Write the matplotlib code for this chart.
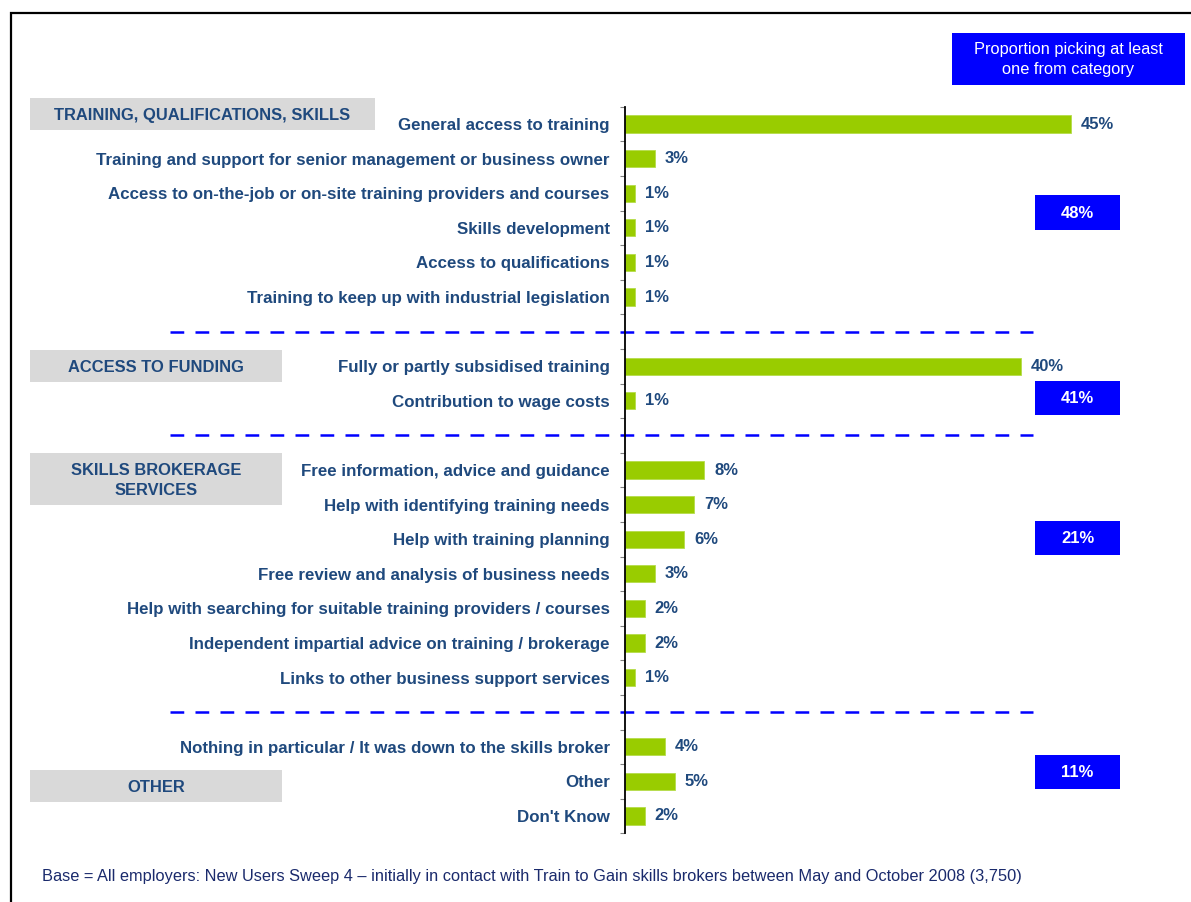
import matplotlib
matplotlib.use("Agg")
import matplotlib.pyplot as plt
from matplotlib.patches import Rectangle

plt.rcParams['font.family'] = ['Liberation Sans', 'DejaVu Sans']

# data
train_items = ["General access to training",
               "Training and support for senior management or business owner",
               "Access to on-the-job or on-site training providers and courses",
               "Skills development",
               "Access to qualifications",
               "Training to keep up with industrial legislation"]
train_vals = [45, 3, 1, 1, 1, 1]

funding_items = ["Fully or partly subsidised training",
                 "Contribution to wage costs"]
funding_vals = [40, 1]

broker_items = ["Free information, advice and guidance",
                "Help with identifying training needs",
                "Help with training planning",
                "Free review and analysis of business needs",
                "Help with searching for suitable training providers / courses",
                "Independent impartial advice on training / brokerage",
                "Links to other business support services"]
broker_vals = [8, 7, 6, 3, 2, 2, 1]

other_items = ["Nothing in particular / It was down to the skills broker",
               "Other",
               "Don't Know"]
other_vals = [4, 5, 2]

group_names = ["TRAINING, QUALIFICATIONS, SKILLS", "ACCESS TO FUNDING",
               "SKILLS BROKERAGE\nSERVICES", "OTHER"]
group_totals = ["48%", "41%", "21%", "11%"]

header_text = "Proportion picking at least\none from category"
base_text = ("Base = All employers: New Users Sweep 4 \u2013 initially in contact with "
             "Train to Gain skills brokers between May and October 2008 (3,750)")

label_col = "#1f497d"
bar_col = "#99cc00"
blue = "#0000ff"
W, H = 1191, 902

fig = plt.figure(figsize=(W / 100, H / 100), dpi=100)


def fx(x):
    return x / W


def fy(y):
    return 1 - y / H


# axes: x axis line at 625px, 1% = 9.9px; slots of 34.6px
ax_left, ax_right = 625, 1130
ax = fig.add_axes([fx(ax_left), fy(833.3), fx(ax_right - ax_left), (833.3 - 106.7) / H])

groups = [(train_items, train_vals), (funding_items, funding_vals),
          (broker_items, broker_vals), (other_items, other_vals)]
labels, vals, pos, seps = [], [], [], []
slot = 0
for gi, (items, v) in enumerate(groups):
    for it, val in zip(items, v):
        labels.append(it)
        vals.append(val)
        pos.append(slot)
        slot += 1
    if gi < len(groups) - 1:
        seps.append(slot)
        slot += 1

ax.barh(pos, vals, height=0.5, color=bar_col, edgecolor="#b5dc4a", linewidth=0.6)
for p, v in zip(pos, vals):
    ax.text(v + 1.0, p, f"{v}%", va="center", ha="left", fontsize=12,
            fontweight="bold", color=label_col)

ax.set_xlim(0, (ax_right - ax_left) / 9.9)
ax.set_ylim(slot - 0.5, -0.5)
ax.set_yticks(pos)
ax.set_yticklabels(labels, fontsize=12.2, fontweight="bold", color=label_col)
ax.tick_params(axis="y", which="major", length=0, pad=11)
ax.set_yticks([i - 0.5 for i in range(slot + 1)], minor=True)
ax.tick_params(axis="y", which="minor", length=3.6, color="#808080", width=0.8)
ax.set_xticks([])
for s in ["top", "right", "bottom"]:
    ax.spines[s].set_visible(False)
ax.spines["left"].set_linewidth(1.3)

# dashed separators
x0f = (170 - ax_left) / (ax_right - ax_left)
x1f = (1033 - ax_left) / (ax_right - ax_left)
for s in seps:
    ax.axhline(s, xmin=x0f, xmax=x1f, color=blue, linestyle=(0, (5.5, 4.5)),
               linewidth=1.8, clip_on=False)


def fig_box(x0, y0, x1, y1, color, text, tcolor, bold, size=11.9, dy=0):
    fig.add_artist(Rectangle((fx(x0), fy(y1)), fx(x1 - x0), (y1 - y0) / H,
                             transform=fig.transFigure, facecolor=color,
                             edgecolor="none"))
    fig.text(fx((x0 + x1) / 2), fy((y0 + y1) / 2 + dy), text, ha="center", va="center",
             color=tcolor, fontsize=size, fontweight="bold" if bold else "normal",
             linespacing=1.38)


# group label boxes
gray_boxes = [(30, 98, 375, 130), (30, 350, 282, 382), (30, 453, 282, 505), (30, 770, 282, 802)]
for (x0, y0, x1, y1), name in zip(gray_boxes, group_names):
    fig_box(x0, y0, x1, y1, "#d9d9d9", name, label_col, True, dy=1.5)

# totals boxes
total_boxes = [(1035, 195, 1120, 230), (1035, 381, 1120, 415),
               (1035, 521, 1120, 555), (1035, 755, 1120, 789)]
for (x0, y0, x1, y1), t in zip(total_boxes, group_totals):
    fig_box(x0, y0, x1, y1, blue, t, "white", True, size=12, dy=0.5)

fig_box(952, 33, 1185, 85, blue, header_text, "white", False, size=11.8, dy=0.5)

fig.text(fx(42), fy(876), base_text, ha="left", va="center", fontsize=11.8,
         color="#1a2a6c")

# outer frame (cut off at right and bottom)
fig.add_artist(Rectangle((fx(11), fy(960)), fx(1300), (960 - 13) / H,
                         transform=fig.transFigure, facecolor="none",
                         edgecolor="black", linewidth=1.6, clip_on=False))

fig.savefig("out.png", dpi=100)
